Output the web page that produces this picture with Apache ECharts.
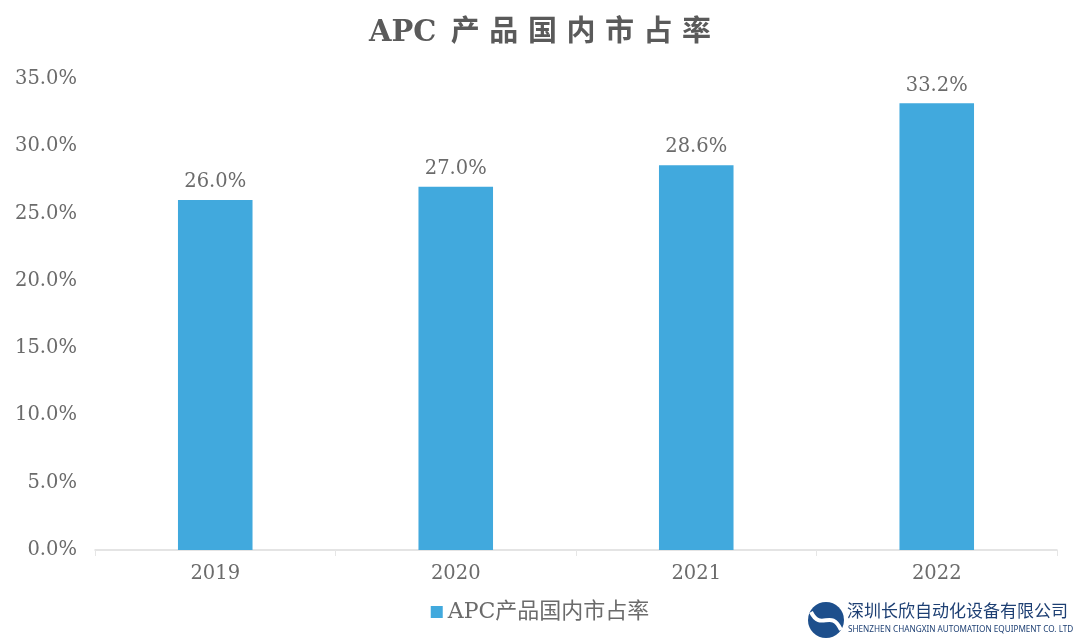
<!DOCTYPE html>
<html>
<head>
<meta charset="utf-8">
<script src="https://cdn.jsdelivr.net/npm/echarts@6/dist/echarts.min.js"></script>
<style>html,body{margin:0;padding:0;background:#fff}#c{width:1080px;height:642px}</style>
</head>
<body>
<div id="c"></div>
<script>
const categories = ['2019', '2020', '2021', '2022'];
const shareValues = [26.0, 27.0, 28.6, 33.2];
const seriesName = 'APC产品国内市占率';
const titleText = 'APC\u2002产\u2004品\u2004国\u2004内\u2004市\u2004占\u2004率';
const companyName = '深圳长欣自动化设备有限公司';
const companyEn = 'SHENZHEN CHANGXIN AUTOMATION EQUIPMENT CO. LTD';

const serif = '"DejaVu Serif", "Liberation Serif", "Noto Sans CJK SC", serif';
const textColor = '#6b6b6b';
const chart = echarts.init(document.getElementById('c'));
chart.setOption({
  backgroundColor: '#ffffff',
  animation: false,
  title: {
    text: titleText,
    left: 'center',
    top: 14,
    textStyle: { fontFamily: serif, fontSize: 29, fontWeight: 'bold', color: '#5a5a5a' }
  },
  legend: {
    bottom: 14,
    left: 'center',
    icon: 'rect',
    itemWidth: 12,
    itemHeight: 12,
    itemGap: 4,
    textStyle: { fontFamily: serif, fontSize: 22, color: textColor },
    data: [seriesName]
  },
  grid: { left: 95, right: 23, top: 79, bottom: 92, containLabel: false },
  xAxis: {
    type: 'category',
    data: categories,
    axisLine: { lineStyle: { color: '#dcdcdc', width: 1.5 } },
    axisTick: { show: true, length: 6, lineStyle: { color: '#e6e6e6' } },
    axisLabel: { fontFamily: serif, fontSize: 19.5, color: textColor, margin: 14 }
  },
  yAxis: {
    type: 'value',
    min: 0,
    max: 35,
    interval: 5,
    axisLine: { show: false },
    axisTick: { show: false },
    splitLine: { show: false },
    axisLabel: {
      fontFamily: serif, fontSize: 19.5, color: textColor, margin: 18,
      formatter: v => v.toFixed(1) + '%'
    }
  },
  series: [{
    name: seriesName,
    type: 'bar',
    data: shareValues,
    barWidth: '31%',
    itemStyle: { color: '#41a9dd' },
    label: {
      show: true,
      position: 'top',
      distance: 8,
      fontFamily: serif,
      fontSize: 19.5,
      color: textColor,
      formatter: p => p.value.toFixed(1) + '%'
    }
  }],
  graphic: [
    {
      type: 'group',
      left: 808,
      top: 602,
      children: [
        { type: 'circle', shape: { cx: 19, cy: 19, r: 18 }, style: { fill: '#1d4f8c' } },
        { type: 'bezierCurve', shape: { x1: 4, y1: 11, x2: 34, y2: 29, cpx1: 14, cpy1: 31, cpx2: 24, cpy2: 7 }, style: { stroke: '#ffffff', lineWidth: 4, fill: null } },
        { type: 'text', left: 40, top: 1, style: { text: companyName, font: '17px "Noto Sans CJK SC", sans-serif', fill: '#1d3f73' } },
        { type: 'text', left: 41, top: 25, style: { text: companyEn, font: '8.2px "Noto Sans", sans-serif', fill: '#1d3f73' } }
      ]
    }
  ]
});
</script>
</body>
</html>
